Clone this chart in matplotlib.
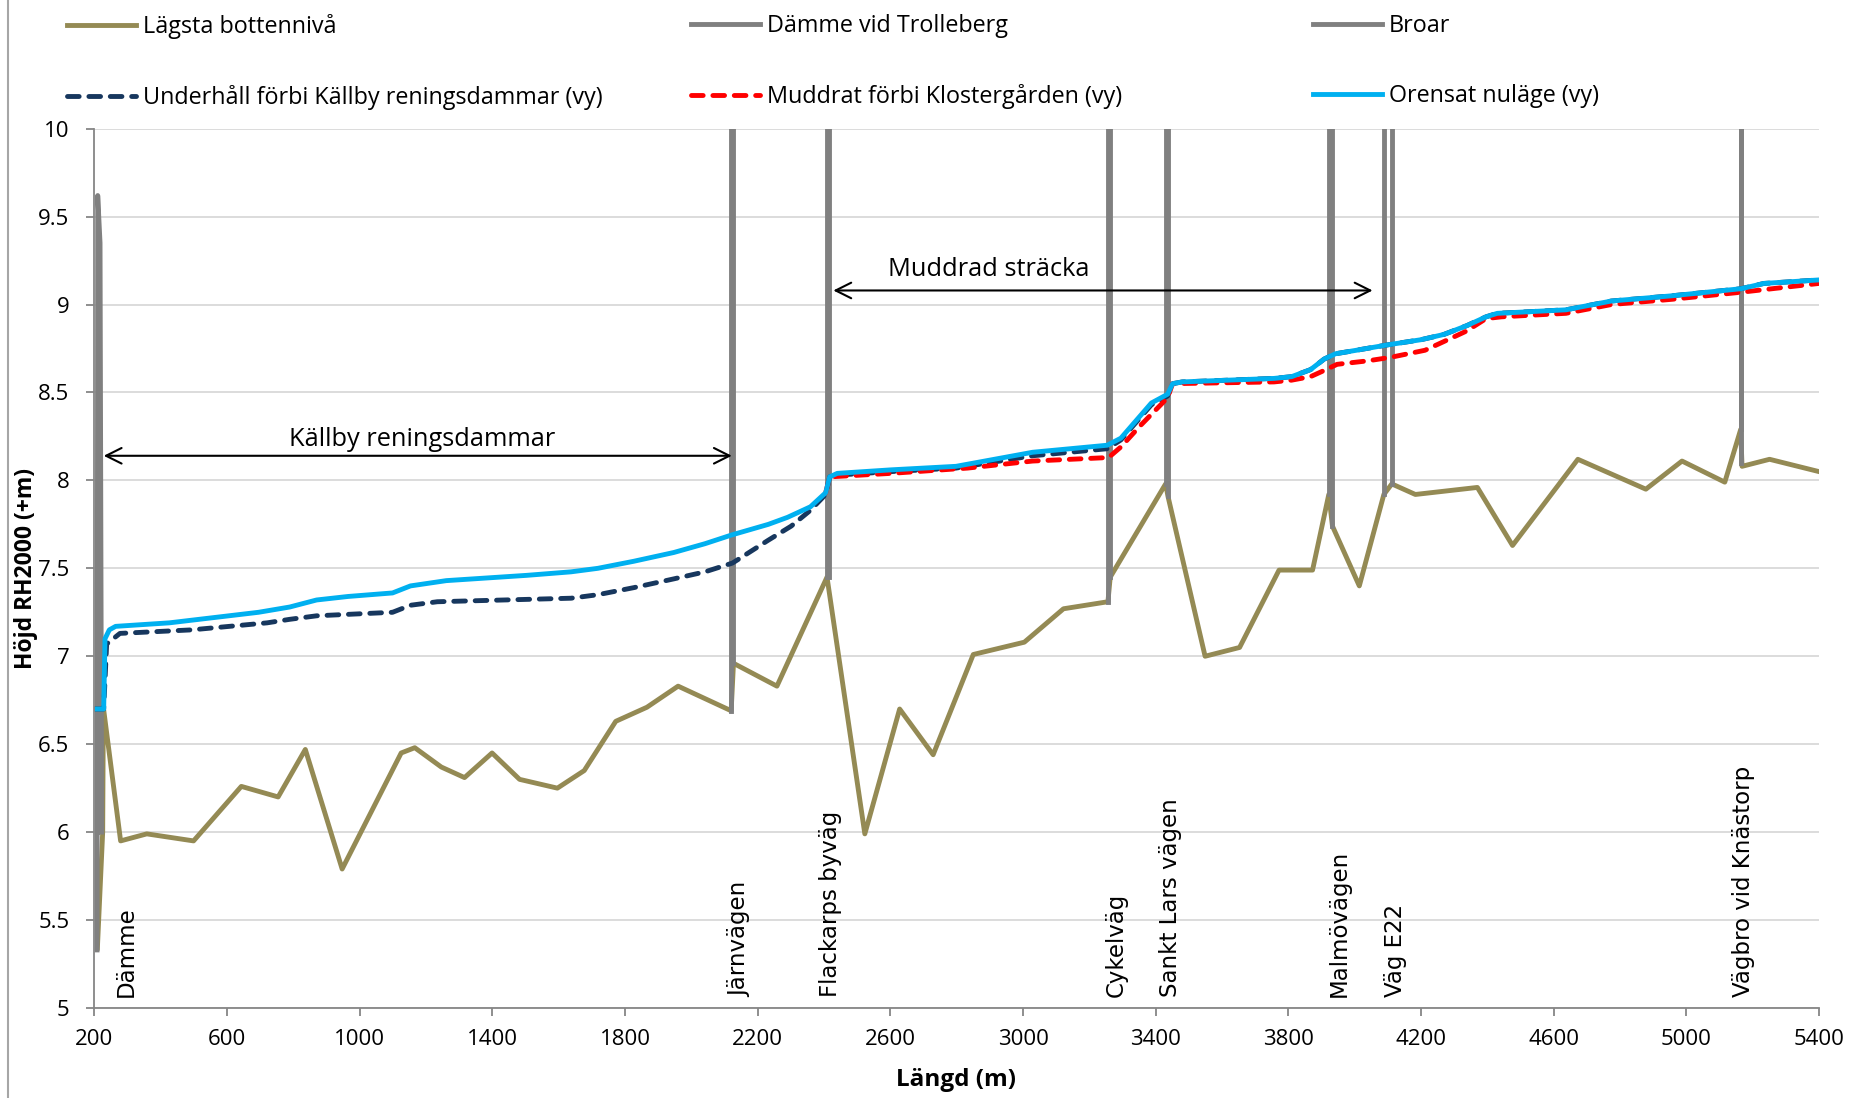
import numpy as np
import matplotlib
matplotlib.use('Agg')
import matplotlib.pyplot as plt
from matplotlib.lines import Line2D

# Lägsta bottennivå (längd m, höjd m)
bottom_x = [209, 225, 227, 279, 358, 499, 643, 754, 836, 947, 1125, 1166, 1246, 1316, 1399,
            1482, 1596, 1677, 1772, 1866, 1960, 2120, 2127, 2258, 2409, 2523, 2628, 2729, 2850,
            3004, 3122, 3256, 3263, 3430, 3437, 3549, 3653, 3772, 3873, 3922, 3933, 4014, 4088,
            4112, 4183, 4370, 4476, 4673, 4878, 4987, 5116, 5164, 5168, 5251, 5400]
bottom_y = [5.34, 6.00, 6.71, 5.95, 5.99, 5.95, 6.26, 6.20, 6.47, 5.79, 6.45, 6.48, 6.37, 6.31, 6.45,
            6.30, 6.25, 6.35, 6.63, 6.71, 6.83, 6.69, 6.96, 6.83, 7.45, 5.99, 6.70, 6.44, 7.01,
            7.08, 7.27, 7.31, 7.45, 7.98, 7.91, 7.00, 7.05, 7.49, 7.49, 7.92, 7.74, 7.40, 7.92,
            7.98, 7.92, 7.96, 7.63, 8.12, 7.95, 8.11, 7.99, 8.29, 8.08, 8.12, 8.05]

# Dämme vid Trolleberg
dam_x = [208, 210, 217, 222]
dam_y = [5.33, 9.62, 9.35, 6.00]

# Broar (nan = gap between bridges)
bridge_x = [2120, 2120, 2127, 2127, np.nan,
            2409, 2409, 2415, 2415, np.nan,
            3256, 3256, 3263, 3263, np.nan,
            3430, 3430, 3437, 3437, np.nan,
            3922, 3922, 3933, 3933, np.nan,
            4088, 4088, 4112, 4112, np.nan,
            5164, 5164, 5166, 5166]
bridge_y = [6.69, 10.5, 10.5, 6.96, np.nan,
            7.45, 10.5, 10.5, 7.45, np.nan,
            7.31, 10.5, 10.5, 7.45, np.nan,
            7.98, 10.5, 10.5, 7.91, np.nan,
            7.92, 10.5, 10.5, 7.74, np.nan,
            7.92, 10.5, 10.5, 7.98, np.nan,
            8.29, 10.5, 10.5, 8.10]

# Underhåll förbi Källby reningsdammar (vy)
maint_x = [200, 228, 237, 277, 493, 721, 789, 870, 1099, 1153, 1234, 1637, 1718, 1826, 1947,
           2041, 2124, 2232, 2301, 2359, 2405, 2417, 2440, 2602, 2798, 3029, 3254, 3295, 3387,
           3436, 3451, 3480, 3757, 3810, 3867, 3908, 3942, 4005, 4097, 4200, 4269, 4338, 4396,
           4430, 4637, 4774, 4958, 5165, 5234, 5400]
maint_y = [6.70, 6.70, 7.07, 7.13, 7.15, 7.19, 7.21, 7.23, 7.25, 7.29, 7.31, 7.33, 7.35, 7.39, 7.44,
           7.48, 7.53, 7.66, 7.74, 7.83, 7.92, 8.02, 8.03, 8.05, 8.07, 8.14, 8.18, 8.23, 8.43,
           8.48, 8.55, 8.56, 8.58, 8.59, 8.63, 8.69, 8.72, 8.74, 8.77, 8.80, 8.83, 8.88, 8.93,
           8.95, 8.97, 9.02, 9.05, 9.09, 9.12, 9.14]

# Muddrat förbi Klostergården (vy) - upstream part lies under the current level
dredge_x = [2405, 2417, 2602, 2833, 3029, 3258, 3295, 3353, 3436, 3451, 3757, 3810, 3867, 3902, 3947,
            4040, 4109, 4212, 4281, 4338, 4396, 4442, 4637, 4774, 4958, 5165, 5400]
dredge_y = [7.93, 8.02, 8.04, 8.07, 8.11, 8.13, 8.19, 8.31, 8.47, 8.55, 8.56, 8.57, 8.59, 8.62, 8.66,
            8.68, 8.70, 8.74, 8.80, 8.85, 8.92, 8.93, 8.95, 9.00, 9.03, 9.07, 9.12]

# Orensat nuläge (vy)
now_x = [200, 228, 232, 245, 264, 426, 695, 789, 870, 965, 1099, 1153, 1261, 1503, 1637, 1718,
         1826, 1947, 2041, 2122, 2232, 2290, 2359, 2405, 2417, 2440, 2602, 2798, 3029, 3254, 3295,
         3387, 3436, 3451, 3480, 3757, 3810, 3867, 3908, 3942, 4005, 4097, 4200, 4269, 4338, 4396,
         4430, 4637, 4774, 4958, 5165, 5234, 5400]
now_y = [6.70, 6.70, 7.10, 7.15, 7.17, 7.19, 7.25, 7.28, 7.32, 7.34, 7.36, 7.40, 7.43, 7.46, 7.48, 7.50,
         7.54, 7.59, 7.64, 7.69, 7.75, 7.79, 7.85, 7.93, 8.02, 8.04, 8.06, 8.08, 8.16, 8.20, 8.24,
         8.44, 8.49, 8.55, 8.56, 8.58, 8.59, 8.63, 8.69, 8.72, 8.74, 8.77, 8.80, 8.83, 8.88, 8.93,
         8.95, 8.97, 9.02, 9.05, 9.09, 9.12, 9.14]

# place names along the channel
place_names = ['Dämme', 'Järnvägen', 'Flackarps byväg', 'Cykelväg', 'Sankt Lars vägen',
               'Malmövägen', 'Väg E22', 'Vägbro vid Knästorp']
place_x = [296, 2147, 2421, 3282, 3446, 3955, 4122, 5172]

c_olive = '#948A54'
c_gray = '#808080'
c_navy = '#17375E'
c_red = '#FF0000'
c_blue = '#00B0F0'
lw = 3.5

fig = plt.figure(figsize=(18.51, 10.98), dpi=100)
ax = fig.add_axes([0.051, 0.082, 0.9317, 0.8008])

l1, = ax.plot(bottom_x, bottom_y, color=c_olive, lw=lw, solid_joinstyle='round')
l2, = ax.plot(dam_x, dam_y, color=c_gray, lw=lw)
l3, = ax.plot(bridge_x, bridge_y, color=c_gray, lw=lw)
l4, = ax.plot(maint_x, maint_y, color=c_navy, lw=lw, dashes=(2.4, 2.0), dash_capstyle='round')
l5, = ax.plot(dredge_x, dredge_y, color=c_red, lw=lw, dashes=(2.4, 2.0), dash_capstyle='round')
l6, = ax.plot(now_x, now_y, color=c_blue, lw=lw, solid_joinstyle='round')

ax.set_xlim(200, 5400)
ax.set_ylim(5, 10)
ax.set_xticks(np.arange(200, 5401, 400))
ax.set_yticks(np.arange(5, 10.01, 0.5))
ax.set_yticklabels(['%g' % v for v in np.arange(5, 10.01, 0.5)])
ax.grid(axis='y', color='#D9D9D9', lw=1.3)
ax.set_axisbelow(True)
for s in ['top', 'right']:
    ax.spines[s].set_visible(False)
for s in ['left', 'bottom']:
    ax.spines[s].set_color('#868686')
    ax.spines[s].set_linewidth(1.3)
ax.tick_params(axis='y', length=6, width=1.3, color='#868686', pad=12,
               labelsize=16, labelfontfamily='Open Sans')
ax.tick_params(axis='x', length=6, width=1.3, color='#868686', pad=9,
               labelsize=16, labelfontfamily='Open Sans')

ax.set_ylabel('Höjd RH2000 (+m)', fontsize=16.5, fontweight='bold', family='Open Sans')
ax.yaxis.set_label_coords(-0.0328, 0.5)
ax.set_xlabel('Längd (m)', fontsize=17.5, fontweight='bold', family='Open Sans')
ax.xaxis.set_label_coords(0.4996, -0.068)

# stretch arrows
ax.annotate('', xy=(228, 8.14), xytext=(2122, 8.14),
            arrowprops=dict(arrowstyle='<->', color='black', lw=1.5, mutation_scale=28,
                            shrinkA=0, shrinkB=0))
ax.text(1189, 8.23, 'Källby reningsdammar', fontsize=18.3, family='Open Sans',
        ha='center', va='center')
ax.annotate('', xy=(2428, 9.08), xytext=(4054, 9.08),
            arrowprops=dict(arrowstyle='<->', color='black', lw=1.5, mutation_scale=28,
                            shrinkA=0, shrinkB=0))
ax.text(2898, 9.20, 'Muddrad sträcka', fontsize=18.3, family='Open Sans',
        ha='center', va='center')

for name, px in zip(place_names, place_x):
    ax.text(px, 5.06, name, rotation=90, ha='center', va='bottom',
            fontsize=16.5, family='DejaVu Sans')

# legend in three columns
leg_cols = [([l1, l4], ['Lägsta bottennivå', 'Underhåll förbi Källby reningsdammar (vy)'], 0.0363),
            ([l2, l5], ['Dämme vid Trolleberg', 'Muddrat förbi Klostergården (vy)'], 0.3735),
            ([l3, l6], ['Broar', 'Orensat nuläge (vy)'], 0.7092)]
for hs, labs, lx in leg_cols:
    fig.legend(hs, labs, loc='upper left', bbox_to_anchor=(lx, 0.987), frameon=False,
               borderpad=0, borderaxespad=0, handlelength=2.95, handletextpad=0.3,
               labelspacing=1.95, prop={'family': 'Open Sans', 'size': 16.8})

# chart area border on the left edge
fig.add_artist(Line2D([8 / 1851, 8 / 1851], [0, 1], color='#A6A6A6', lw=1.5))

fig.savefig('out.png', dpi=100)
